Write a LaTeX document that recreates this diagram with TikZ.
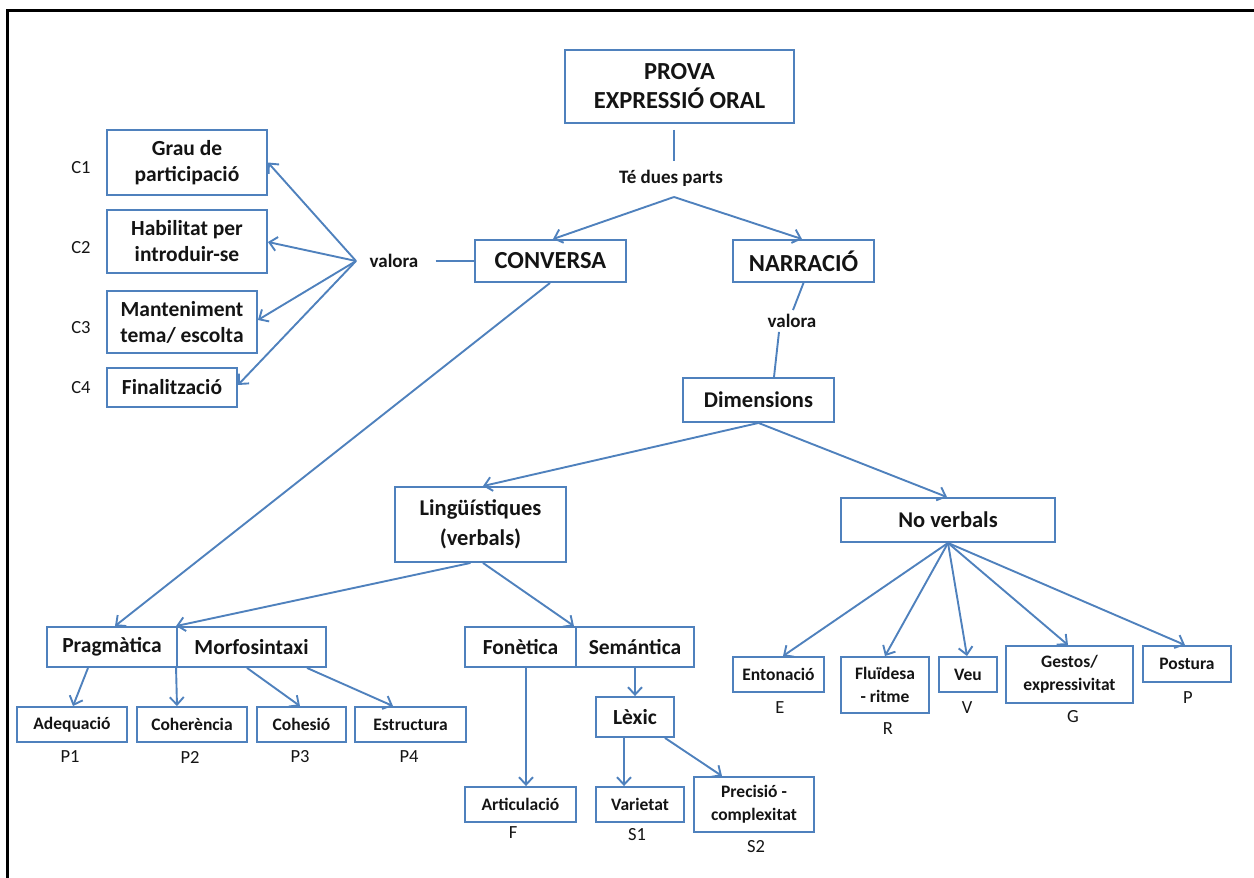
\documentclass[tikz,border=0pt]{standalone}
\usepackage{fontspec}
\setmainfont{Carlito}
\usetikzlibrary{arrows.meta,calc}
\definecolor{bblue}{HTML}{4F81BD}
\definecolor{txt}{HTML}{141414}
\begin{document}
\begin{tikzpicture}[x=1pt,y=-1pt,
 box/.style={draw=bblue,line width=1.9pt,align=center,inner sep=0pt,text=txt,font=\bfseries\fontsize{21.5}{26}\selectfont},
 bigf/.style={font=\bfseries\fontsize{24.5}{29}\selectfont},
 midf/.style={font=\bfseries\fontsize{22.5}{30}\selectfont},
 smf/.style={font=\bfseries\fontsize{17.5}{23}\selectfont},
 lbl/.style={inner sep=0pt,text=txt,font=\fontsize{18.5}{20}\selectfont},
 blbl/.style={inner sep=0pt,text=txt,font=\bfseries\fontsize{19}{20}\selectfont},
 conn/.style={draw=bblue,line width=1.9pt},
 arr/.style={conn,-{Straight Barb[length=7.5pt,width=14pt]}}
]
\useasboundingbox (0,0) rectangle (1254,878);
\draw[line width=3pt,black] (1254,10) -- (7,10) -- (7,878);

% top
\node[box,bigf,minimum width=229pt,minimum height=73pt] (prova) at (679.5,86.5) {PROVA\\EXPRESSIÓ ORAL};
\node[blbl] (te) at (671,178) {Té dues parts};
\coordinate (apex) at (674,197);
\node[box,bigf,minimum width=151pt,minimum height=42pt] (conv) at (550.5,261) {CONVERSA};
\node[box,bigf,minimum width=141pt,minimum height=42pt] (narr) at (803.5,261) {NARRACIÓ};
\node[blbl] (valA) at (394,261) {valora};
\node[blbl] (valB) at (792,321) {valora};
\coordinate (vapex) at (356,261);
\node[box,midf,minimum width=151pt,minimum height=44pt] (dims) at (758.5,400) {Dimensions};
\node[box,midf,minimum width=171pt,minimum height=75pt] (ling) at (480.5,524.5) {Lingüístiques\\(verbals)};
\node[box,midf,minimum width=214pt,minimum height=44pt] (nover) at (948,520) {No verbals};

% left criteria
\node[box,minimum width=160pt,minimum height=65pt] (grau) at (187,162.5) {Grau de\\participació};
\node[box,minimum width=160pt,minimum height=63pt] (habil) at (187,241.5) {Habilitat per\\introduir-se};
\node[box,minimum width=150pt,minimum height=62pt] (mant) at (182,322) {Manteniment\\tema/ escolta};
\node[box,minimum width=130pt,minimum height=39pt] (final) at (172,387.5) {Finalització};
\node[lbl] (c1) at (81,168) {C1};
\node[lbl] (c2) at (81,248) {C2};
\node[lbl] (c3) at (81,328) {C3};
\node[lbl] (c4) at (81,388) {C4};

% linguistic
\node[box,minimum width=130pt,minimum height=40pt] (prag) at (112,647) {Pragmàtica};
\node[box,minimum width=149pt,minimum height=40pt] (morf) at (251.5,647) {Morfosintaxi};
\node[box,minimum width=111pt,minimum height=40pt] (fon) at (520.5,647) {Fonètica};
\node[box,minimum width=118pt,minimum height=40pt] (sem) at (635,647) {Semántica};

\node[box,smf,minimum width=110pt,minimum height=35pt] (adeq) at (72,724.5) {Adequació};
\node[box,smf,minimum width=110pt,minimum height=35pt] (coher) at (192,724.5) {Coherència};
\node[box,smf,minimum width=89pt,minimum height=35pt] (cohes) at (301.5,724.5) {Cohesió};
\node[box,smf,minimum width=111pt,minimum height=35pt] (estr) at (410.5,724.5) {Estructura};
\node[lbl] (p1) at (70,757) {P1};
\node[lbl] (p2) at (190,757) {P2};
\node[lbl] (p3) at (300,757) {P3};
\node[lbl] (p4) at (409,757) {P4};

\node[box,smf,minimum width=111pt,minimum height=35pt] (artic) at (520.5,804.5) {Articulació};
\node[box,minimum width=78pt,minimum height=40pt] (lexic) at (635,717) {Lèxic};
\node[box,smf,minimum width=88pt,minimum height=35pt] (variet) at (640,804.5) {Varietat};
\node[box,smf,minimum width=120pt,minimum height=55pt] (precis) at (754,804.5) {Precisió -\\complexitat};
\node[lbl] (lf) at (513,833) {F};
\node[lbl] (ls1) at (637,835) {S1};
\node[lbl] (ls2) at (756,847) {S2};

% non verbal
\node[box,smf,minimum width=91pt,minimum height=35pt] (enton) at (778.5,674.5) {Entonació};
\node[box,smf,minimum width=88pt,minimum height=56pt] (fluid) at (885,685) {Fluïdesa\\- ritme};
\node[box,smf,minimum width=58pt,minimum height=35pt] (veu) at (968,674.5) {Veu};
\node[box,smf,minimum width=127pt,minimum height=57pt] (gestos) at (1069.5,674.5) {Gestos/\\expressivitat};
\node[box,smf,minimum width=88pt,minimum height=36pt] (post) at (1187,664) {Postura};
\node[lbl] (le) at (780,708) {E};
\node[lbl] (lr) at (888,729) {R};
\node[lbl] (lv) at (967,708) {V};
\node[lbl] (lg) at (1073,717) {G};
\node[lbl] (lp) at (1188,698) {P};

% connectors
\draw[conn] ([xshift=-5.5pt,yshift=-6pt]prova.south) -- ([xshift=3pt,yshift=9pt]te.north);
\draw[arr] (apex) -- ([xshift=2.5pt]conv.north);
\draw[arr] (apex) -- ([xshift=-1.5pt]narr.north);

\draw[arr] (vapex) -- (grau.east);
\draw[arr] (vapex) -- ([yshift=-0.5pt]habil.east);
\draw[arr] (vapex) -- ([yshift=2pt]mant.east);
\draw[arr] (vapex) -- ([yshift=2.5pt]final.east);
\draw[conn] ([xshift=17pt]valA.east) -- (conv.west);

\draw[conn] (narr.south) -- ([xshift=1pt,yshift=4pt]valB.north);
\draw[conn] ([xshift=-13pt,yshift=-4pt]valB.south) -- ([xshift=15.5pt]dims.north);

\draw[arr] (dims.south) -- ([xshift=2.5pt]ling.north);
\draw[arr] (dims.south) -- ([xshift=-1pt]nover.north);

\draw[arr] ([xshift=-0.5pt]conv.south) -- ([xshift=3pt]prag.north);
\draw[arr] ([xshift=-10pt]ling.south) -- (morf.north west);
\draw[arr] ([xshift=2.5pt]ling.south) -- ([xshift=-3pt]fon.north east);

\draw[arr] ([xshift=-24pt]prag.south) -- ([xshift=1pt]adeq.north);
\draw[arr] (morf.south west) -- ([xshift=-15pt]coher.north);
\draw[arr] ([xshift=-4.5pt]morf.south) -- ([xshift=-1.5pt]cohes.north);
\draw[arr] ([xshift=55.5pt]morf.south) -- ([xshift=-17.5pt]estr.north);

\draw[arr] ([xshift=5.5pt]fon.south) -- ([xshift=5.5pt]artic.north);
\draw[arr] (sem.south) -- (lexic.north);
\draw[arr] ([xshift=-11pt]lexic.south) -- ([xshift=-16pt]variet.north);
\draw[arr] ([xshift=30pt]lexic.south) -- ([xshift=-32pt]precis.north);

\draw[arr] (nover.south) -- ([xshift=4.5pt]enton.north);
\draw[arr] (nover.south) -- (fluid.north);
\draw[arr] (nover.south) -- ([xshift=-1pt]veu.north);
\draw[arr] (nover.south) -- ([xshift=-1.5pt]gestos.north);
\draw[arr] (nover.south) -- ([xshift=-2pt]post.north);
\end{tikzpicture}
\end{document}
